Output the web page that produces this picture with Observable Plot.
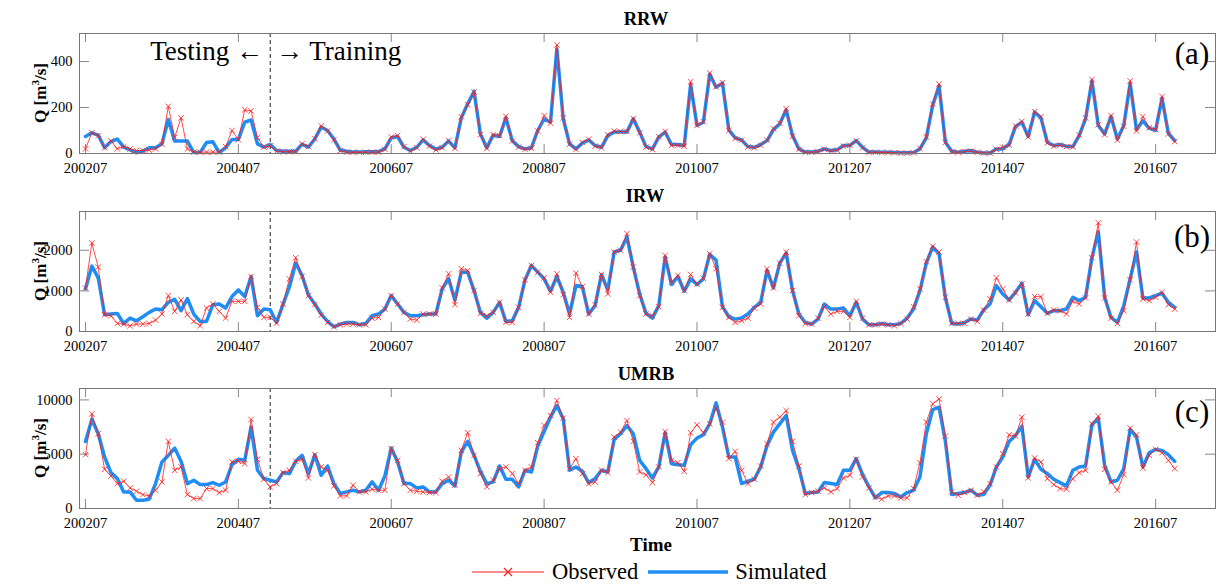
<!DOCTYPE html>
<html><head><meta charset="utf-8">
<script src="https://cdn.jsdelivr.net/npm/d3@7"></script>
<script src="https://cdn.jsdelivr.net/npm/@observablehq/plot@0.6"></script>
<style>
body{margin:0;background:#fff;}
#root{position:relative;width:1218px;height:587px;font-family:"Liberation Serif","Times New Roman",serif;overflow:hidden;background:#fff}
.abs{position:absolute;white-space:nowrap;line-height:1;color:#000}
.ttl{font-weight:bold;font-size:18.5px;transform:translate(-50%,-50%)}
.ylab{font-weight:bold;font-size:17px;transform:translate(-50%,-50%) rotate(-90deg)}
.ylab sup{font-size:0.65em;line-height:0;vertical-align:0.55em}
.pl{font-size:31px;transform:translate(-50%,-50%)}
svg.panel{position:absolute;left:0;overflow:visible}
</style></head><body><div id="root"></div>
<script>
// ---- tick labels (x axis: month index since 2002-07) ----
const tickLabels = ["200207","200407","200607","200807","201007","201207","201407","201607"];
const tickIndex  = [0, 24, 48, 72, 96, 120, 144, 168];
const splitIndex = 29; // Testing | Training boundary (2004-12)

// ---- RRW ----
const rrwSim = [74,90,80,25,52,63,28,16,3,10, 25,25,42,148,54,54,54,4,4,48,
 51,4,25,61,61,136,146,42,28,39, 13,10,10,10,40,28,63,115,100,63,
 15,10,6,6,8,8,8,20,68,74, 27,13,27,59,35,19,27,54,25,155,
 216,270,85,25,80,74,155,56,30,20, 25,100,150,136,455,151,42,20,45,59,
 35,27,78,93,93,93,151,93,30,20, 71,93,39,39,35,300,122,136,345,288,
 306,103,68,59,30,27,39,56,104,129, 190,78,20,6,6,10,20,13,16,35,
 35,56,27,6,6,5,5,4,3,3, 4,20,68,209,295,49,10,6,10,13,
 6,2,2,20,20,39,117,136,74,180, 155,49,35,39,32,30,78,151,315,122,
 85,161,63,122,305,103,142,109,101,240, 88,56];
const rrwObs = [20,90,78,25,55,20,30,20,13,13, 15,20,40,205,70,155,20,6,6,6,
 6,6,30,100,60,190,185,70,28,33, 10,8,8,8,42,30,65,120,98,60,
 12,6,5,5,5,6,6,18,72,78, 30,10,25,62,32,16,25,56,22,160,
 212,268,82,22,82,78,162,54,28,18, 22,98,165,132,472,155,40,18,48,62,
 32,25,82,98,96,96,152,90,28,18, 74,96,35,35,32,312,122,138,350,290,
 308,100,65,58,28,25,36,58,108,132, 195,75,18,5,5,8,18,10,14,32,
 36,55,25,5,5,4,4,3,2,2, 3,22,72,215,302,48,8,5,8,10,
 5,2,2,18,27,36,120,140,72,182, 160,46,32,36,30,28,80,155,322,125,
 82,165,58,118,316,98,161,112,104,248, 85,52];

// ---- IRW ----
const irwSim = [1050,1610,1320,413,430,446,198,330,264,363, 470,553,537,718,793,512,810,430,248,248,
 660,677,578,860,1024,860,1355,388,553,537, 223,660,1090,1685,1380,900,677,430,250,116,
 182,223,223,165,198,388,430,553,884,677, 470,388,388,413,430,430,1050,1297,776,1462,
 1462,1008,470,330,470,718,248,264,595,1272, 1627,1462,1297,991,1355,966,430,1132,1107,430,
 636,1404,1024,1958,2000,2330,1586,925,446,330, 636,1834,1156,1355,991,1297,1156,1297,1900,1751,
 611,363,305,330,430,595,718,1503,1074,1685, 1933,1008,430,223,182,305,677,553,553,578,
 388,718,305,165,165,198,165,165,198,330, 553,1008,1685,2080,1916,826,198,182,223,305,
 281,529,677,1132,925,776,966,1189,413,760, 611,446,512,512,553,843,760,843,1817,2453,
 843,347,223,636,1297,1958,826,826,884,942, 718,595];
const irwObs = [1074,2180,1586,413,388,198,182,140,182,182, 198,281,430,884,496,776,413,248,140,578,
 677,496,330,743,743,743,1355,595,347,347, 206,677,1297,1817,1355,884,660,405,223,116,
 165,182,182,165,165,330,347,553,884,677, 470,305,281,430,430,430,1074,1420,660,1545,
 1500,1008,446,388,470,718,223,223,595,1272, 1627,1462,1320,966,1420,908,347,1437,1107,430,
 660,1404,925,1958,2000,2410,1586,884,430,388, 611,1875,1214,1380,1008,1404,1170,1310,1916,1545,
 595,347,223,264,330,578,677,1545,1074,1685, 1958,1008,388,198,182,330,611,430,496,496,
 347,743,330,165,165,182,165,140,198,305, 611,1050,1720,2100,1958,843,198,198,198,305,
 248,529,801,1322,1050,776,950,1170,430,859, 859,446,529,512,430,743,677,826,1817,2676,
 826,330,198,512,1272,2205,801,760,843,966, 660,553];

// ---- UMRB ----
const umrbSim = [6177,8195,6880,4740,3303,2752,1529,1529,765,765, 856,2294,4281,4893,5566,4342,2294,2600,2202,2202,
 2385,2141,2446,4037,4526,4434,7492,3517,2752,2600, 2446,3303,3211,4342,4893,3211,4954,3058,3914,2294,
 1376,1529,1682,1529,1682,2446,1682,2997,5566,4281, 2294,2294,1896,1988,1529,1529,2294,2600,2079,5199,
 6177,4893,3425,2294,2446,3914,2691,2691,1988,3517, 3364,5749,7095,8410,9480,8257,3517,3822,3425,2385,
 2752,3517,3364,6361,6880,7645,6880,4434,3670,2813, 3822,6972,4128,4037,3975,5871,6483,6789,7798,9724,
 7492,4740,4740,2294,2508,2691,3822,5810,7033,7798, 8562,5352,3670,1376,1468,1529,2385,2294,2202,3517,
 3517,4587,3119,1988,979,1468,1468,1376,1070,1468, 1682,2905,6880,9112,9327,6177,1284,1376,1468,1682,
 1223,1284,2141,3822,4740,6177,6728,7584,2905,4526, 3608,3211,2691,2385,2079,3517,3822,3914,7706,8318,
 3975,2446,2600,3670,7278,6575,3822,5137,5443,5352, 4954,4342];
const umrbObs = [4954,8715,6880,3608,2997,2294,2508,1896,1590,1284, 1162,1682,2446,6177,3517,3822,1284,917,917,1835,
 1835,1468,1682,4281,4342,4128,8195,4526,2691,1988, 2294,3303,3517,4342,4526,2813,4954,3822,3517,2079,
 1162,1162,2141,1529,1529,1774,1682,1682,5504,4434, 2294,1682,1590,1529,1468,1468,2508,2905,2141,5352,
 6972,4893,3211,1988,2600,3670,3822,3211,2294,3517, 3822,6055,7645,8562,9939,8318,3670,4587,3211,2294,
 2446,3517,3303,6575,7033,8104,6177,3364,3100,2385, 3822,7095,4434,4220,3425,6972,7706,6972,7798,9235,
 7951,4587,5260,3517,2294,2691,3914,5963,7951,8410, 9021,6177,3914,1284,1468,1590,1896,1529,1835,2813,
 3058,4526,2905,1896,1070,856,1162,1162,979,979, 1835,4220,7951,9633,10091,6667,1529,1223,1468,1682,
 1223,1529,2294,3822,5046,6789,6667,8410,2813,4648, 4281,2752,2202,1835,1774,2752,3303,3517,7798,8501,
 3608,2446,1682,3119,7400,6789,3730,4893,5443,5137, 4434,3670];

const rrwTicks = [0, 200, 400];
const irwTicks = [0, 1000, 2000];
const umrbTicks = [0, 5000, 10000];

const OBS_COLOR = "#ff1a1a";
const SIM_COLOR = "#1e8ef5";
const FONT = '"Liberation Serif","Times New Roman",serif';

const root = document.getElementById("root");

function addDiv(cls, html, x, y, extra) {
  const d = document.createElement("div");
  d.className = "abs " + cls;
  d.innerHTML = html;
  d.style.left = x + "px"; d.style.top = y + "px";
  if (extra) Object.assign(d.style, extra);
  root.appendChild(d);
  return d;
}

function panel({obs, sim, yMax, yTicks, top, height, mt}) {
  const data = obs.map((v, i) => ({i, obs: v, sim: sim[i]}));
  const xDom = [-0.94, 177.4];
  const tl = yMax * 0.075;
  const tx = (xDom[1] - xDom[0]) * 0.0088;
  const innerH = 120;
  const chart = Plot.plot({
    width: 1218, height, marginLeft: 79, marginRight: 3, marginTop: mt,
    marginBottom: height - mt - innerH,
    x: {domain: xDom}, y: {domain: [0, yMax]},
    style: {fontFamily: FONT, fontSize: "14.5px", color: "#000", background: "transparent", overflow: "visible"},
    marks: [
      Plot.ruleX(tickIndex, {y1: 0, y2: tl, stroke: "#888"}),
      Plot.ruleX(tickIndex, {y1: yMax - tl, y2: yMax, stroke: "#888"}),
      Plot.ruleY(yTicks.slice(1), {x1: xDom[0], x2: xDom[0] + tx, stroke: "#888"}),
      Plot.ruleY(yTicks.slice(1), {x1: xDom[1] - tx, x2: xDom[1], stroke: "#888"}),
      Plot.axisX(tickIndex, {tickSize: 0, tickPadding: 9, label: null, fontSize: 14.5,
        tickFormat: d => tickLabels[tickIndex.indexOf(d)]}),
      Plot.axisY(yTicks, {tickSize: 0, tickPadding: 7, label: null, fontSize: 14.5, tickFormat: d => String(d)}),
      Plot.ruleX([splitIndex], {stroke: "#222", strokeWidth: 1, strokeDasharray: "4,3"}),
      Plot.line(data, {x: "i", y: "sim", stroke: SIM_COLOR, strokeWidth: 3.5}),
      Plot.line(data, {x: "i", y: "obs", stroke: OBS_COLOR, strokeWidth: 0.8}),
      Plot.dot(data, {x: "i", y: "obs", symbol: "times", r: 2.6, stroke: OBS_COLOR, strokeWidth: 0.8}),
      Plot.frame({stroke: "#777"})
    ]
  });
  chart.classList.add("panel");
  chart.style.top = top + "px";
  root.appendChild(chart);
}

panel({obs: rrwObs, sim: rrwSim, yMax: 522, yTicks: rrwTicks, top: 0, height: 175, mt: 33});
panel({obs: irwObs, sim: irwSim, yMax: 2955, yTicks: irwTicks, top: 175, height: 180, mt: 36});
panel({obs: umrbObs, sim: umrbSim, yMax: 11050, yTicks: umrbTicks, top: 355, height: 180, mt: 33});

// titles
addDiv("ttl", "RRW", 646, 19);
addDiv("ttl", "IRW", 645, 196);
addDiv("ttl", "UMRB", 646, 374);
// y labels
addDiv("ylab", "Q [m<sup>3</sup>/s]", 40, 93);
addDiv("ylab", "Q [m<sup>3</sup>/s]", 40, 271);
addDiv("ylab", "Q [m<sup>3</sup>/s]", 40, 448);
// panel letters
addDiv("pl", "(a)", 1192, 53);
addDiv("pl", "(b)", 1192, 236);
addDiv("pl", "(c)", 1192, 411);
// testing / training annotation
addDiv("", "Testing ←", 263, 51, {fontSize: "27px", transform: "translate(-100%,-50%)"});
addDiv("", "→ Training", 276, 51, {fontSize: "27px", transform: "translate(0,-50%)"});
// x label
addDiv("ttl", "Time", 651, 544, {fontSize: "19px"});

// legend
const leg = document.createElement("div");
leg.className = "abs";
leg.style.left = "470px"; leg.style.top = "560px";
leg.style.display = "flex"; leg.style.alignItems = "center"; leg.style.fontSize = "22.5px";
leg.innerHTML =
  `<svg width="76" height="24"><line x1="2" x2="74" y1="12" y2="12" stroke="${OBS_COLOR}" stroke-width="1"/>` +
  `<path d="M34,8L42,16M42,8L34,16" stroke="${OBS_COLOR}" stroke-width="1.2"/></svg>` +
  `<span style="margin-left:6px;margin-right:8px">Observed</span>` +
  `<svg width="84" height="24"><line x1="2" x2="82" y1="12" y2="12" stroke="${SIM_COLOR}" stroke-width="3.5"/></svg>` +
  `<span style="margin-left:5px">Simulated</span>`;
root.appendChild(leg);
</script></body></html>
